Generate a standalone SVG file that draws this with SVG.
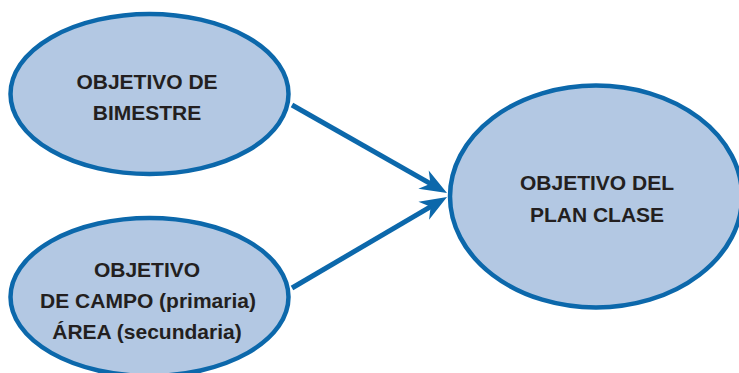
<svg xmlns="http://www.w3.org/2000/svg" width="739" height="373" viewBox="0 0 739 373">
<style>
.node{fill:#b3c8e3;stroke:#0c68ab;stroke-width:4.5}
.lbl{font-family:"Liberation Sans",Arial,sans-serif;font-weight:bold;font-size:21px;fill:#231f20;text-anchor:middle}
.conn{stroke:#0c68ab;stroke-width:5;fill:none}
</style>
<defs>
<marker id="ah" markerUnits="userSpaceOnUse" markerWidth="30" markerHeight="26" refX="18" refY="13" orient="auto" viewBox="0 0 30 26">
<path d="M1,2.5 L28,13 L1,23.5 L9,13 Z" fill="#0c68ab"/>
</marker>
</defs>
<rect width="739" height="373" fill="#ffffff"/>
<g id="connectors">
<line class="conn" x1="292" y1="105" x2="438.3" y2="188.1" marker-end="url(#ah)"/>
<line class="conn" x1="292" y1="288" x2="438.4" y2="202.1" marker-end="url(#ah)"/>
</g>
<g id="node-bimestre">
<ellipse class="node" cx="149.5" cy="94" rx="139" ry="80"/>
<text class="lbl" x="147" y="89">OBJETIVO DE</text>
<text class="lbl" x="147" y="120">BIMESTRE</text>
</g>
<g id="node-campo">
<ellipse class="node" cx="149.5" cy="297" rx="139" ry="79"/>
<text class="lbl" x="147" y="277">OBJETIVO</text>
<text class="lbl" x="148" y="308">DE CAMPO (primaria)</text>
<text class="lbl" x="147" y="339">ÁREA (secundaria)</text>
</g>
<g id="node-plan">
<ellipse class="node" cx="596" cy="196.5" rx="146" ry="111"/>
<text class="lbl" x="597" y="190">OBJETIVO DEL</text>
<text class="lbl" x="597" y="222">PLAN CLASE</text>
</g>
</svg>
